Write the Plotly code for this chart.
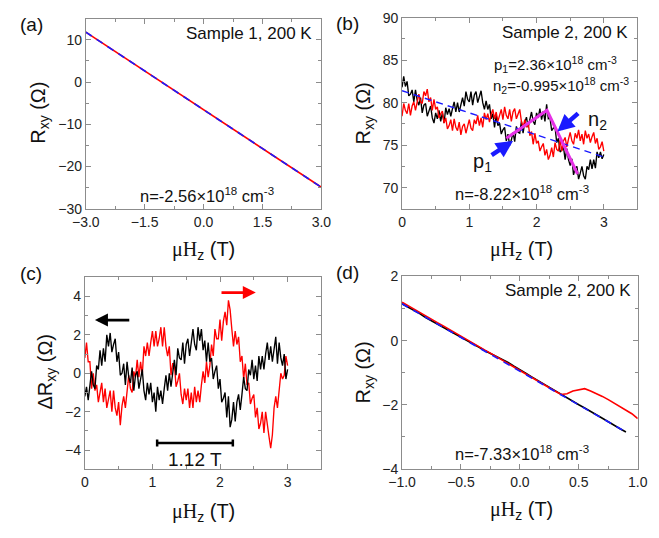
import plotly.graph_objects as go

W, H = 659, 538

# ---------------- data ----------------
# (a) Sample 1, 200 K: Hall resistance and linear fit
field_a = [-3.0, -1.5, 0.0, 1.5, 3.0]
rxy_a = [11.8, 2.6, -6.5, -15.7, -24.9]
fit_a_x = [-3.0, 3.0]
fit_a_y = [11.8, -24.9]

# (b) Sample 2, 200 K: field sweep 0..3 T in 0.025 T steps
field_b = [round(0.025 * i, 3) for i in range(121)]
rxy_b_black = [
    81.8, 83.1, 81.9, 82.5, 80.8, 81.0, 81.5, 80.1, 81.5, 80.3,
    79.7, 80.6, 78.8, 79.7, 79.9, 78.4, 79.0, 79.6, 78.2, 77.6,
    78.8, 78.1, 79.1, 77.8, 78.8, 77.6, 79.4, 78.6, 79.3, 78.4,
    79.3, 80.1, 78.9, 80.0, 78.9, 79.7, 80.6, 79.6, 81.3, 80.4,
    80.1, 81.3, 79.7, 80.9, 81.3, 80.0, 80.7, 81.4, 80.0, 79.2,
    80.2, 79.2, 79.8, 78.1, 78.7, 77.1, 78.5, 77.3, 77.6, 76.3,
    76.8, 77.1, 75.5, 76.3, 75.0, 75.6, 76.5, 75.4, 77.2, 76.5,
    76.4, 77.8, 76.4, 77.7, 78.3, 77.1, 78.0, 78.9, 77.8, 77.4,
    78.8, 78.2, 79.3, 78.0, 79.0, 77.8, 79.8, 78.1, 78.2, 76.7,
    77.0, 77.1, 75.3, 75.8, 74.2, 74.4, 74.8, 73.3, 74.6, 73.3,
    72.6, 73.4, 71.5, 72.3, 72.5, 71.0, 71.7, 72.5, 71.4, 71.0,
    72.5, 72.1, 73.3, 72.2, 73.3, 72.3, 74.2, 73.5, 74.2, 73.4,
    73.9,
]
rxy_b_red = [
    78.4, 79.9, 79.1, 78.7, 79.9, 78.5, 79.6, 80.1, 79.1, 80.1,
    81.0, 80.1, 79.9, 81.3, 80.8, 81.6, 80.1, 80.6, 79.1, 80.4,
    79.2, 79.5, 78.2, 78.7, 79.0, 77.6, 78.2, 76.9, 77.3, 78.0,
    76.7, 78.1, 77.1, 76.7, 77.7, 76.2, 77.2, 77.5, 76.4, 77.2,
    78.0, 77.0, 76.7, 78.0, 77.5, 78.5, 77.3, 78.2, 77.1, 78.8,
    78.0, 78.7, 77.7, 78.6, 79.2, 78.1, 78.9, 77.8, 78.4, 79.2,
    78.0, 79.5, 78.5, 78.1, 79.2, 77.8, 78.9, 79.3, 78.1, 78.8,
    79.2, 77.8, 77.1, 78.0, 77.1, 77.7, 76.1, 76.6, 75.1, 76.4,
    75.2, 75.5, 74.3, 74.8, 75.2, 73.8, 74.5, 73.3, 73.8, 74.7,
    73.6, 75.3, 74.5, 74.3, 75.6, 74.3, 75.5, 75.9, 74.8, 75.7,
    76.5, 75.5, 75.1, 76.4, 75.8, 76.8, 75.5, 76.3, 75.1, 76.7,
    75.8, 76.3, 75.3, 76.0, 76.5, 75.2, 75.8, 74.5, 74.8, 75.4,
    74.3,
]
fit_b_x = [0.0, 3.0]
fit_b_y = [81.4, 73.6]
guide_b_x = [1.55, 2.155, 2.61]
guide_b_y = [75.8, 79.1, 71.6]

# (c) oscillatory part of the Hall signal, same field grid
drxy_c_black = [
    -1.2, -0.7, -1.4, -0.7, 0.1, -0.6, -0.8, 0.4, 0.2, 1.2,
    0.4, 1.3, 0.6, 2.0, 1.4, 2.1, 1.1, 1.5, 1.8, 0.6,
    1.1, -0.1, 0.0, 0.5, -0.6, 0.6, -0.2, -0.5, 0.3, -0.9,
    -0.1, 0.1, -0.8, -0.3, 0.2, -0.9, -1.4, -0.5, -1.1, -0.5,
    -1.5, -1.0, -2.0, -0.7, -1.4, -0.9, -1.6, -0.8, -0.1, -0.9,
    0.0, -0.7, -0.1, 0.7, -0.1, 1.3, 0.8, 0.7, 1.6, 0.5,
    1.5, 1.8, 0.9, 1.6, 2.3, 1.5, 1.2, 2.4, 1.7, 2.3,
    1.2, 1.7, 0.6, 1.6, 0.6, 0.8, -0.3, 0.1, 0.4, -0.8,
    -0.3, -1.5, -1.3, -1.0, -2.3, -1.2, -2.8, -2.4, -1.5, -2.5,
    -1.5, -1.1, -1.9, -1.1, -0.2, -0.8, -0.9, 0.2, -0.1, 0.7,
    -0.3, 0.4, -0.4, 0.9, 0.2, 0.9, 0.2, 1.0, 1.6, 0.7,
    1.4, 0.6, 1.2, 1.9, 0.5, 1.6, 0.8, 0.4, 1.0, -0.3,
    0.2,
]
drxy_c_red = [
    0.8, 1.6, 0.6, 0.6, -0.8, 0.0, -0.9, -0.6, -1.5, -0.9,
    -0.5, -1.5, -0.8, -1.8, -1.4, -0.9, -2.0, -0.9, -1.8, -2.2,
    -1.5, -2.7, -1.7, -1.2, -1.8, -1.0, -0.1, -0.8, -1.0, 0.1,
    -0.2, 0.7, -0.2, 0.6, -0.1, 1.4, 0.9, 1.6, 0.9, 1.6,
    2.2, 1.4, 2.2, 1.4, 1.8, 2.4, 1.4, 2.4, 1.4, 0.9,
    1.4, -0.1, 0.5, 0.5, -0.7, -0.4, 0.0, -1.1, -1.6, -0.8,
    -1.4, -0.8, -1.8, -1.0, -1.8, -0.7, -1.5, -0.9, -1.5, -0.6,
    0.1, -0.5, 0.6, -0.2, 0.4, 1.5, 0.9, 2.3, 1.8, 1.8,
    2.8, 1.7, 2.7, 3.2, 2.5, 3.8, 3.3, 2.3, 1.4, 2.2,
    1.5, 1.9, 0.6, 0.9, -0.3, 0.5, -0.6, -0.5, -1.6, -1.3,
    -1.1, -2.3, -1.8, -2.9, -2.6, -2.0, -3.1, -2.0, -2.8, -3.3,
    -3.9, -3.2, -1.8, -1.2, -1.8, -0.9, 0.0, -0.3, -0.1, 0.9,
    0.4,
]
period_start = 1.07
period_len = 1.12

# (d) Sample 2, 200 K, low-field sweep
field_d_black = [-1.00, -0.95, -0.90, -0.85, -0.80, -0.75, -0.70, -0.65, -0.60, -0.55,
                 -0.50, -0.45, -0.40, -0.35, -0.30, -0.25, -0.20, -0.15, -0.10, -0.05,
                 0.00, 0.05, 0.10, 0.15, 0.20, 0.25, 0.30, 0.35, 0.40, 0.45,
                 0.50, 0.55, 0.60, 0.65, 0.70, 0.75, 0.80, 0.85, 0.90]
rxy_d_black = [1.15, 1.05, 0.94, 0.84, 0.72, 0.62, 0.50, 0.41, 0.31, 0.21,
               0.10, 0.00, -0.10, -0.20, -0.31, -0.40, -0.49, -0.58, -0.68, -0.80,
               -0.92, -1.02, -1.13, -1.24, -1.35, -1.47, -1.58, -1.68, -1.79, -1.89,
               -2.00, -2.10, -2.20, -2.31, -2.42, -2.53, -2.65, -2.75, -2.85]
field_d_red = [-1.00, -0.95, -0.90, -0.85, -0.80, -0.75, -0.70, -0.65, -0.60, -0.55,
               -0.50, -0.45, -0.40, -0.35, -0.30, -0.25, -0.20, -0.15, -0.10, -0.05,
               0.00, 0.05, 0.10, 0.15, 0.20, 0.25, 0.30, 0.35, 0.40, 0.45,
               0.50, 0.55, 0.60, 0.65, 0.70, 0.75, 0.80, 0.85, 0.90, 0.95, 1.00]
rxy_d_red = [1.20, 1.09, 0.99, 0.88, 0.78, 0.67, 0.56, 0.46, 0.35, 0.24,
             0.13, 0.03, -0.07, -0.18, -0.29, -0.39, -0.50, -0.61, -0.72, -0.83,
             -0.93, -1.04, -1.15, -1.25, -1.36, -1.47, -1.58, -1.68, -1.66, -1.57,
             -1.53, -1.50, -1.57, -1.65, -1.74, -1.84, -1.95, -2.05, -2.16, -2.28, -2.43]
fit_d_x = [-1.0, 0.9]
fit_d_y = [1.15, -2.85]

# ---------------- style ----------------
SANS = "Arial, 'Liberation Sans', sans-serif"
SERIF = "'Times New Roman', 'Liberation Serif', serif"
GRAY = "#8c8c8c"
BLUE = "#1a1aff"
RED = "#ff0000"
MAGENTA = "#e632e6"
NOISY_W = 1.35


def xdom(left, right):
    return [left / W, right / W]


def ydom(top, bottom):
    return [1 - bottom / H, 1 - top / H]


def px(xp):
    return xp / W


def py(yp):
    return 1 - yp / H


def axis(domain, anchor, rng, dtick, minor_dtick, tick0=0, fmt=None):
    d = dict(
        domain=domain, anchor=anchor, range=rng, dtick=dtick, tick0=tick0,
        showline=True, linecolor=GRAY, linewidth=1, mirror="ticks",
        ticks="inside", ticklen=5, tickcolor=GRAY, tickwidth=1,
        showgrid=False, zeroline=False,
        tickfont=dict(family=SANS, size=14, color="#222222"),
        minor=dict(ticks="inside", ticklen=3, tickcolor=GRAY, dtick=minor_dtick, showgrid=False),
    )
    if fmt:
        d["tickformat"] = fmt
    return d


fig = go.Figure()

# (a)
fig.add_trace(go.Scatter(x=field_a, y=rxy_a, mode="lines", line=dict(color=RED, width=1.6),
                         xaxis="x", yaxis="y"))
fig.add_trace(go.Scatter(x=fit_a_x, y=fit_a_y, mode="lines",
                         line=dict(color=BLUE, width=1.6, dash="7px,6px"), xaxis="x", yaxis="y"))

# (b)
fig.add_trace(go.Scatter(x=field_b, y=rxy_b_black, mode="lines", line=dict(color="black", width=NOISY_W),
                         xaxis="x2", yaxis="y2"))
fig.add_trace(go.Scatter(x=field_b, y=rxy_b_red, mode="lines", line=dict(color=RED, width=NOISY_W),
                         xaxis="x2", yaxis="y2"))
fig.add_trace(go.Scatter(x=fit_b_x, y=fit_b_y, mode="lines",
                         line=dict(color=BLUE, width=1.4, dash="7px,5px"), xaxis="x2", yaxis="y2"))
fig.add_trace(go.Scatter(x=guide_b_x, y=guide_b_y, mode="lines", line=dict(color=MAGENTA, width=3),
                         xaxis="x2", yaxis="y2"))

# (c)
fig.add_trace(go.Scatter(x=field_b, y=drxy_c_red, mode="lines", line=dict(color=RED, width=NOISY_W),
                         xaxis="x3", yaxis="y3"))
fig.add_trace(go.Scatter(x=field_b, y=drxy_c_black, mode="lines", line=dict(color="black", width=NOISY_W),
                         xaxis="x3", yaxis="y3"))

# (d)
fig.add_trace(go.Scatter(x=field_d_black, y=rxy_d_black, mode="lines", line=dict(color="black", width=1.6),
                         xaxis="x4", yaxis="y4"))
fig.add_trace(go.Scatter(x=field_d_red, y=rxy_d_red, mode="lines", line=dict(color=RED, width=1.6),
                         xaxis="x4", yaxis="y4"))
fig.add_trace(go.Scatter(x=fit_d_x, y=fit_d_y, mode="lines",
                         line=dict(color=BLUE, width=1.6, dash="7px,6px"), xaxis="x4", yaxis="y4"))

# scale bar for the oscillation period in (c)
bar_y, cap = -3.63, 0.18
period_end = period_start + period_len
shapes = [
    dict(type="line", xref="x3", yref="y3", x0=period_start, x1=period_end, y0=bar_y, y1=bar_y,
         line=dict(color="black", width=2.5)),
    dict(type="line", xref="x3", yref="y3", x0=period_start, x1=period_start, y0=bar_y - cap, y1=bar_y + cap,
         line=dict(color="black", width=2.5)),
    dict(type="line", xref="x3", yref="y3", x0=period_end, x1=period_end, y0=bar_y - cap, y1=bar_y + cap,
         line=dict(color="black", width=2.5)),
]

MU_H = f'<span style="font-family:{SERIF}">μH</span><sub>z</sub> (T)'

ann = []


def text(xp, yp, s, size=16, xanchor="center", yanchor="middle", angle=0, color="#111111"):
    ann.append(dict(x=px(xp), y=py(yp), xref="paper", yref="paper", text=s, showarrow=False,
                    xanchor=xanchor, yanchor=yanchor, textangle=angle,
                    font=dict(family=SANS, size=size, color=color)))


# panel letters
text(4, 17, "(a)", 19, xanchor="left")
text(332, 16, "(b)", 19, xanchor="left")
text(4, 274, "(c)", 19, xanchor="left")
text(332, 273, "(d)", 19, xanchor="left")

# axis titles
for cx, cy in [(197, 250), (527, 250), (197, 520), (527, 518)]:
    text(cx, cy, MU_H, 20)
text(27, 108, "R<sub>xy</sub> (Ω)", 20, angle=-90)
text(364, 109, "R<sub>xy</sub> (Ω)", 20, angle=-90)
text(34, 375, "ΔR<sub>xy</sub> (Ω)", 20, angle=-90)
text(364, 376, "R<sub>xy</sub> (Ω)", 20, angle=-90)

# in-panel labels
text(311, 26, "Sample 1, 200 K", 17, xanchor="right")
text(200, 193, "n=-2.56×10<sup>18</sup> cm<sup>-3</sup>", 16.5)
text(639, 25, "Sample 2, 200 K", 17, xanchor="right")
text(496, 58, "p<sub>1</sub>=2.36×10<sup>18</sup> cm<sup>-3</sup>", 15, xanchor="left")
text(495, 80, "n<sub>2</sub>=-0.995×10<sup>18</sup> cm<sup>-3</sup>", 15, xanchor="left")
text(527, 191, "n=-8.22×10<sup>18</sup> cm<sup>-3</sup>", 16.5)
text(642, 291, "Sample 2, 200 K", 17, xanchor="right")
text(527, 459, "n=-7.33×10<sup>18</sup> cm<sup>-3</sup>", 16.5)

# carrier labels in (b)
ann.append(dict(x=1.2, y=72.9, xref="x2", yref="y2", text="p<sub>1</sub>", showarrow=False,
                font=dict(family=SANS, size=20, color="#111111")))
ann.append(dict(x=2.9, y=77.9, xref="x2", yref="y2", text="n<sub>2</sub>", showarrow=False,
                font=dict(family=SANS, size=20, color="#111111")))

# arrows in (b)
for (hx, hy, tx, ty) in [(1.65, 75.5, 1.31, 73.7), (2.31, 76.6, 2.64, 78.9)]:
    ann.append(dict(x=hx, y=hy, ax=tx, ay=ty, xref="x2", yref="y2", axref="x2", ayref="y2",
                    showarrow=True, arrowhead=2, arrowsize=0.75, arrowwidth=4.5, arrowcolor=BLUE,
                    standoff=0, text=""))

# sweep-direction arrows in (c)
ann.append(dict(x=0.15, y=2.77, ax=0.68, ay=2.77, xref="x3", yref="y3", axref="x3", ayref="y3",
                showarrow=True, arrowhead=2, arrowsize=1.0, arrowwidth=2.6, arrowcolor="black",
                standoff=0, text=""))
ann.append(dict(x=2.53, y=4.2, ax=2.0, ay=4.2, xref="x3", yref="y3", axref="x3", ayref="y3",
                showarrow=True, arrowhead=2, arrowsize=1.0, arrowwidth=2.6, arrowcolor=RED,
                standoff=0, text=""))

# period label
ann.append(dict(x=period_start + period_len / 2, y=-4.5, xref="x3", yref="y3", text=f"{period_len:.2f} T",
                showarrow=False, font=dict(family=SANS, size=19, color="#111111")))

fig.update_layout(
    width=W, height=H, margin=dict(l=0, r=0, t=0, b=0),
    paper_bgcolor="white", plot_bgcolor="white", showlegend=False,
    xaxis=axis(xdom(74.5, 319), "y", [-3, 3], 1.5, 0.75, tick0=0, fmt=".1f"),
    yaxis=axis(ydom(11, 207), "x", [-30, 15], 10, 5),
    xaxis2=axis(xdom(402.7, 647), "y2", [0, 3.5], 1, 0.5),
    yaxis2=axis(ydom(10, 207), "x2", [67.5, 90], 5, 2.5),
    xaxis3=axis(xdom(73.5, 319), "y3", [0, 3.5], 1, 0.5),
    yaxis3=axis(ydom(277.5, 475.5), "x3", [-5, 5], 2, 1),
    xaxis4=axis(xdom(402.7, 647.3), "y4", [-1, 1], 0.5, 0.25, fmt=".1f"),
    yaxis4=axis(ydom(276.7, 475), "x4", [-4, 2], 2, 1),
    annotations=ann,
    shapes=shapes,
)

fig.write_html("out.html")
